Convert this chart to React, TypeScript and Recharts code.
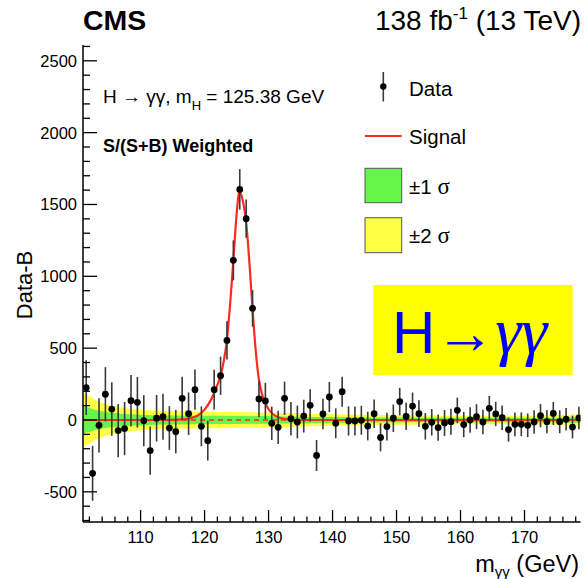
import React from "react";
import {
  ComposedChart,
  XAxis,
  YAxis,
  Area,
  Line,
  Scatter,
  ErrorBar,
  ReferenceLine,
} from "recharts";

// diphoton mass bin centres (GeV)
const massBins = [
  101.5, 102.5, 103.5, 104.5, 105.5, 106.5, 107.5, 108.5, 109.5, 110.5,
  111.5, 112.5, 113.5, 114.5, 115.5, 116.5, 117.5, 118.5, 119.5, 120.5,
  121.5, 122.5, 123.5, 124.5, 125.5, 126.5, 127.5, 128.5, 129.5, 130.5,
  131.5, 132.5, 133.5, 134.5, 135.5, 136.5, 137.5, 138.5, 139.5, 140.5,
  141.5, 142.5, 143.5, 144.5, 145.5, 146.5, 147.5, 148.5, 149.5, 150.5,
  151.5, 152.5, 153.5, 154.5, 155.5, 156.5, 157.5, 158.5, 159.5, 160.5,
  161.5, 162.5, 163.5, 164.5, 165.5, 166.5, 167.5, 168.5, 169.5, 170.5,
  171.5, 172.5, 173.5, 174.5, 175.5, 176.5, 177.5, 178.5,
];

// weighted data minus fitted background
const dataMinusBkg = [
  225, -371, -37, 179, 76, -74, -60, 134, 123, -5,
  -213, 12, 23, -56, -81, 151, 44, 211, -44, -144,
  211, 308, 554, 1111, 1605, 1401, 777, 146, 133, -23,
  -51, 151, 9, -14, 27, 102, -247, 42, 160, -23,
  197, -7, -7, -2, -42, 44, -121, -46, 12, 128,
  25, 97, 44, -44, -16, -53, -21, -12, 67, -32,
  0, 23, -14, 81, 42, 16, -67, -30, -30, -37,
  -14, 30, -12, 46, -12, 5, -49, 14,
];

const dataErr = [
  190, 191, 189, 189, 186, 186, 185, 180, 176, 178,
  168, 162, 160, 152, 151, 150, 148, 140, 139, 138,
  138, 133, 133, 139, 141, 133, 127, 125, 126, 116,
  116, 116, 117, 114, 114, 112, 108, 106, 105, 104,
  104, 102, 101, 101, 100, 99, 98, 97, 96, 96,
  95, 94, 93, 92, 92, 91, 90, 90, 89, 88,
  88, 87, 86, 86, 85, 85, 84, 83, 83, 82,
  82, 81, 81, 80, 80, 79, 79, 78,
];

// background uncertainty, half widths of the bands
const bandMass = [101, 102, 103, 104, 105, 106, 108, 110, 112, 115, 120, 125, 130, 135, 140, 145, 150, 155, 160, 165, 170, 175, 178.75];
const band1Sigma = [95, 83, 70, 60, 53, 48, 40, 36, 33, 31, 29, 28, 26, 23, 20, 18, 17, 16, 15, 15, 15, 17, 21];
const band2Sigma = [190, 165, 140, 120, 105, 95, 80, 72, 66, 62, 58, 56, 52, 46, 40, 36, 34, 32, 30, 30, 30, 34, 42];

// signal model (S+B fit minus B)
const signalMass = [101, 114, 116, 117, 118, 119, 120, 121, 122, 122.5, 123, 123.5, 124, 124.5, 125, 125.45, 125.9, 126.5, 127, 127.5, 128, 128.5, 129, 129.5, 130, 131, 132, 133, 134, 178.75];
const signalYield = [0, 0, 2, 6, 15, 33, 72, 140, 245, 310, 410, 560, 810, 1110, 1430, 1590, 1540, 1375, 1100, 770, 480, 280, 175, 118, 75, 30, 12, 5, 0, 0];

const xTicks = [102, 104, 106, 108, 110, 112, 114, 116, 118, 120, 122, 124, 126, 128, 130, 132, 134, 136, 138, 140, 142, 144, 146, 148, 150, 152, 154, 156, 158, 160, 162, 164, 166, 168, 170, 172, 174, 176, 178];
const yTicks = [-700, -600, -500, -400, -300, -200, -100, 0, 100, 200, 300, 400, 500, 600, 700, 800, 900, 1000, 1100, 1200, 1300, 1400, 1500, 1600, 1700, 1800, 1900, 2000, 2100, 2200, 2300, 2400, 2500, 2600];

const points = massBins.map((m, i) => ({ m, v: dataMinusBkg[i], err: dataErr[i] }));
const bands = bandMass.map((m, i) => ({
  m,
  s1: [-band1Sigma[i], band1Sigma[i]],
  s2: [-band2Sigma[i], band2Sigma[i]],
}));
const signal = signalMass.map((m, i) => ({ m, v: signalYield[i] }));

const FONT = "'Liberation Sans', Arial, Helvetica, sans-serif";
const SERIF = "'Liberation Serif', 'DejaVu Serif', serif";
const RED = "#ff2a1f";
const GREEN = "#66f54a";
const YELLOW = "#ffff44";

const W = 585;
const H = 579;

const BottomTick = (props: any) => {
  const { x, y, payload } = props;
  const major = payload.value % 10 === 0;
  return (
    <g>
      <line x1={x} x2={x} y1={y} y2={y - (major ? 12 : 5.5)} stroke="#000" strokeWidth={1.3} />
      {major && (
        <text x={x} y={y + 21} textAnchor="middle" fontSize={16.5} fontFamily={FONT} fill="#000">
          {payload.value}
        </text>
      )}
    </g>
  );
};

const TopTick = (props: any) => {
  const { x, y, payload } = props;
  const major = payload.value % 10 === 0;
  return <line x1={x} x2={x} y1={y} y2={y + (major ? 12 : 5.5)} stroke="#000" strokeWidth={1.3} />;
};

const LeftTick = (props: any) => {
  const { x, y, payload } = props;
  const major = payload.value % 500 === 0;
  return (
    <g>
      <line x1={x} x2={x + (major ? 14 : 7)} y1={y} y2={y} stroke="#000" strokeWidth={1.3} />
      {major && (
        <text x={x - 6} y={y + 6} textAnchor="end" fontSize={16.5} fontFamily={FONT} fill="#000">
          {payload.value}
        </text>
      )}
    </g>
  );
};

const RightTick = (props: any) => {
  const { x, y, payload } = props;
  const major = payload.value % 500 === 0;
  return <line x1={x} x2={x - (major ? 14 : 7)} y1={y} y2={y} stroke="#000" strokeWidth={1.3} />;
};

const DataDot = (props: any) => {
  const { cx, cy } = props;
  return <circle cx={cx} cy={cy} r={3.4} fill="#000" />;
};

const App = () => {
  return (
    <div style={{ position: "absolute", left: 0, top: 0, width: W, height: H, background: "#fff" }}>
      <ComposedChart width={W} height={H} margin={{ top: 45, right: 4.5, bottom: 0, left: 0 }}>
        <XAxis
          xAxisId="b"
          dataKey="m"
          type="number"
          domain={[101, 178.75]}
          allowDataOverflow
          ticks={xTicks}
          interval={0}
          height={57}
          tickSize={0}
          tickMargin={0}
          tickLine={false}
          axisLine={{ stroke: "#000", strokeWidth: 1.5 }}
          tick={<BottomTick />}
        />
        <XAxis
          xAxisId="t"
          orientation="top"
          dataKey="m"
          type="number"
          domain={[101, 178.75]}
          allowDataOverflow
          ticks={xTicks}
          interval={0}
          height={0}
          tickSize={0}
          tickMargin={0}
          tickLine={false}
          axisLine={{ stroke: "#000", strokeWidth: 1.5 }}
          tick={<TopTick />}
        />
        <YAxis
          yAxisId="l"
          type="number"
          domain={[-710, 2610]}
          allowDataOverflow
          ticks={yTicks}
          interval={0}
          width={83}
          tickSize={0}
          tickMargin={0}
          tickLine={false}
          axisLine={{ stroke: "#000", strokeWidth: 1.5 }}
          tick={<LeftTick />}
        />
        <YAxis
          yAxisId="r"
          orientation="right"
          type="number"
          domain={[-710, 2610]}
          allowDataOverflow
          ticks={yTicks}
          interval={0}
          width={0}
          tickSize={0}
          tickMargin={0}
          tickLine={false}
          axisLine={{ stroke: "#000", strokeWidth: 1.5 }}
          tick={<RightTick />}
        />
        <Area
          xAxisId="b"
          yAxisId="l"
          data={bands}
          dataKey="s2"
          type="monotone"
          stroke="none"
          fill={YELLOW}
          fillOpacity={1}
          isAnimationActive={false}
        />
        <Area
          xAxisId="b"
          yAxisId="l"
          data={bands}
          dataKey="s1"
          type="monotone"
          stroke="none"
          fill={GREEN}
          fillOpacity={1}
          isAnimationActive={false}
        />
        <ReferenceLine xAxisId="b" yAxisId="l" y={0} stroke={RED} strokeWidth={1.6} strokeDasharray="5 4" />
        <Line
          xAxisId="b"
          yAxisId="l"
          data={signal}
          dataKey="v"
          type="monotone"
          stroke={RED}
          strokeWidth={2.2}
          dot={false}
          isAnimationActive={false}
        />
        <Scatter
          xAxisId="b"
          yAxisId="l"
          data={points}
          dataKey="v"
          shape={<DataDot />}
          isAnimationActive={false}
        >
          <ErrorBar dataKey="err" direction="y" width={0} stroke="#3a3a3a" strokeWidth={1.6} />
        </Scatter>
      </ComposedChart>

      <svg
        width={W}
        height={H}
        style={{ position: "absolute", left: 0, top: 0, pointerEvents: "none" }}
        fontFamily={FONT}
      >
        <text x={83} y={30} fontSize={28.5} fontWeight="bold">CMS</text>
        <text x={581} y={30} fontSize={28} textAnchor="end">
          138 fb<tspan fontSize={17} dy={-11}>-1</tspan>
          <tspan dy={11}> (13 TeV)</tspan>
        </text>

        <text x={579} y={572} fontSize={23.5} textAnchor="end">
          m<tspan fontSize={15} dy={5}>γγ</tspan>
          <tspan dy={-5}> (GeV)</tspan>
        </text>
        <text transform="translate(32,285) rotate(-90)" fontSize={22} textAnchor="middle">
          Data-B
        </text>

        <text x={103} y={103} fontSize={19}>
          H → γγ, m<tspan fontSize={13} dy={7}>H</tspan>
          <tspan dy={-7}> = 125.38 GeV</tspan>
        </text>
        <text x={103} y={152} fontSize={18} fontWeight="bold">S/(S+B) Weighted</text>

        {/* legend */}
        <line x1={383.3} x2={383.3} y1={72} y2={101.5} stroke="#3a3a3a" strokeWidth={1.6} />
        <circle cx={383.3} cy={86.5} r={3.2} fill="#000" />
        <text x={409} y={96} fontSize={20.5}>Data</text>
        <line x1={365} x2={401.7} y1={136} y2={136} stroke={RED} strokeWidth={2} />
        <text x={409} y={144} fontSize={20.5}>Signal</text>
        <rect x={365} y={168.3} width={36.7} height={34.4} fill={GREEN} stroke="#555" strokeWidth={1} />
        <text x={409} y={194} fontSize={20.5}>
          ±1<tspan fontFamily={SERIF} fontSize={23}> σ</tspan>
        </text>
        <rect x={365} y={217.7} width={36.7} height={35} fill={YELLOW} stroke="#555" strokeWidth={1} />
        <text x={409} y={243.3} fontSize={20.5}>
          ±2<tspan fontFamily={SERIF} fontSize={23}> σ</tspan>
        </text>

        <rect x={373.3} y={285} width={199.4} height={90} fill="#ffff00" />
        <text x={392} y={352.5} fontSize={60} fill="#0000ff">
          H<tspan fontFamily={SERIF}>→</tspan>
          <tspan fontFamily={SERIF} fontStyle="italic" fontSize={66}>γγ</tspan>
        </text>
      </svg>
    </div>
  );
};

export default App;
